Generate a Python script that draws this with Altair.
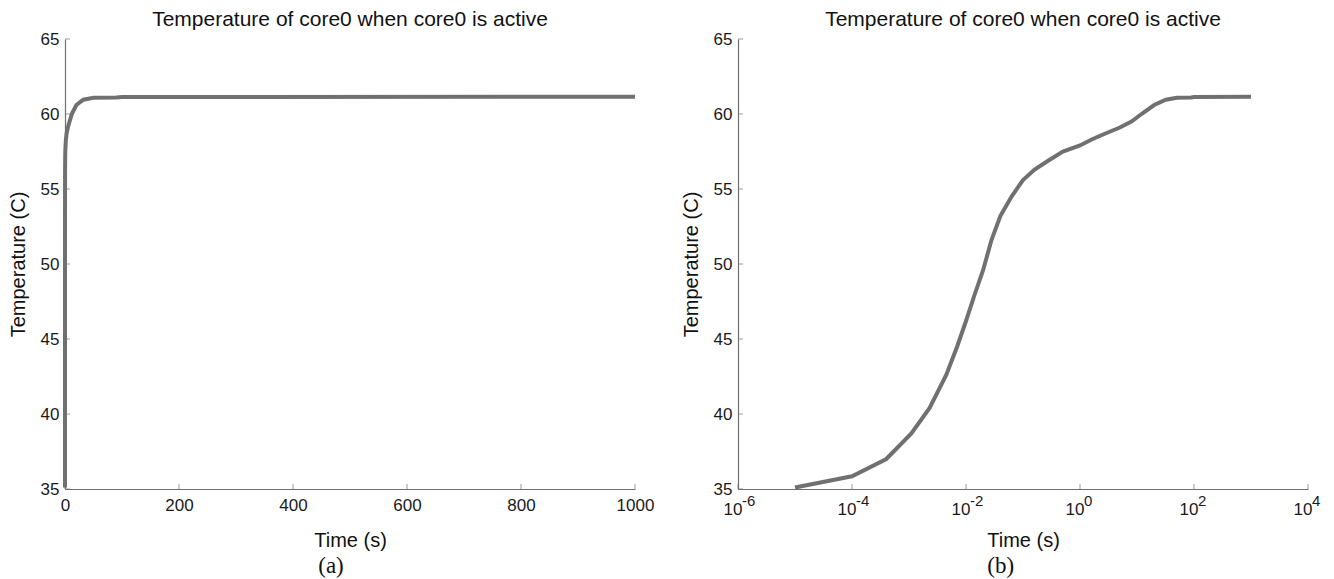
import altair as alt
import pandas as pd

# ---- data (same transient in both panels) ----
time_s = [1e-5, 1e-4, 4e-4, 1.1e-3, 2.3e-3, 4.5e-3, 7e-3, 1e-2, 1.4e-2, 2e-2,
          2.8e-2, 4e-2, 6.3e-2, 0.1, 0.16, 0.28, 0.5, 1.0, 1.6, 2.8,
          5.0, 8.0, 12.5, 20.0, 32.0, 50.0, 90.0, 100.0, 1000.0]
temp_c = [35.1, 35.85, 37.0, 38.7, 40.4, 42.6, 44.5, 46.2, 47.9, 49.6,
          51.6, 53.2, 54.5, 55.6, 56.3, 56.9, 57.5, 57.9, 58.3, 58.7,
          59.1, 59.5, 60.05, 60.6, 60.95, 61.08, 61.1, 61.13, 61.15]

y_ticks = [35, 40, 45, 50, 55, 60, 65]
x_ticks_lin = [0, 200, 400, 600, 800, 1000]
x_ticks_log = [1e-6, 1e-4, 1e-2, 1e0, 1e2, 1e4]
x_exponents = ["-6", "-4", "-2", "0", "2", "4"]

title_text = "Temperature of core0 when core0 is active"
x_title = "Time (s)"
y_title = "Temperature (C)"
captions = ["(a)", "(b)"]

df = pd.DataFrame({"t": time_s, "T": temp_c})

W, H = 570, 450
LINE = "#707070"
AX = "#707070"
TXT = "#1a1a1a"

yscale = alt.Scale(domain=[35, 65], nice=False, zero=False)


def panel(xscale, xaxis, xticks, xmin, caption, extra=None):
    line = alt.Chart(df).mark_line(color=LINE, strokeWidth=4).encode(
        x=alt.X("t:Q", scale=xscale, axis=xaxis),
        y=alt.Y("T:Q", scale=yscale,
                axis=alt.Axis(values=y_ticks, title=y_title, labelPadding=6,
                              titlePadding=12)),
    )
    xt = alt.Chart(pd.DataFrame({"t": xticks})).mark_tick(
        orient="vertical", size=5, thickness=1, yOffset=-2.5, color=AX
    ).encode(x=alt.X("t:Q"), y=alt.datum(35))
    yt = alt.Chart(pd.DataFrame({"T": y_ticks})).mark_tick(
        orient="horizontal", size=5, thickness=1, xOffset=2.5, color=AX
    ).encode(y=alt.Y("T:Q"), x=alt.datum(xmin))
    layers = [line, xt, yt] + ([extra] if extra is not None else [])
    lay = alt.layer(*layers).properties(
        width=W, height=H,
        title=alt.TitleParams(title_text, anchor="middle", fontSize=21,
                              font="Liberation Sans", fontWeight="normal",
                              color="#111111", offset=0),
    )
    return alt.vconcat(lay).properties(
        title=alt.TitleParams(caption, orient="bottom", anchor="middle",
                              font="Liberation Serif", fontSize=23,
                              fontWeight="normal", color="#111111", offset=5)
    )


pa = panel(
    alt.Scale(domain=[0, 1000], nice=False, zero=False),
    alt.Axis(values=x_ticks_lin, title=x_title, labelPadding=8, titlePadding=17,
             format="d"),
    x_ticks_lin, 0, captions[0],
)

log_scale = alt.Scale(type="log", domain=[1e-6, 1e4], nice=False)
exps = alt.Chart(pd.DataFrame({"t": x_ticks_log, "e": x_exponents})).mark_text(
    align="left", baseline="middle", dx=4, dy=12, fontSize=15,
    font="Liberation Sans", color=TXT
).encode(x=alt.X("t:Q"), y=alt.datum(35), text="e:N")

pb = panel(
    log_scale,
    alt.Axis(values=x_ticks_log, title=x_title, labelPadding=12, titlePadding=13,
             labelExpr="'10'", labelAlign="right", labelOffset=4),
    x_ticks_log, 1e-6, captions[1], extra=exps,
)

chart = alt.hconcat(pa, pb, spacing=27).properties(
    padding={"left": 0, "top": 1, "right": 0, "bottom": 0}
).configure_axis(
    labelFont="Liberation Sans", labelFontSize=17, labelColor=TXT,
    titleFont="Liberation Sans", titleFontSize=20, titleFontWeight="normal",
    titleColor="#111111", grid=False, ticks=False, domainColor=AX,
    domainWidth=1.2, labelFlush=False,
).configure_view(stroke=None)

chart.save("out.html", embed_options={"renderer": "svg", "actions": False})
